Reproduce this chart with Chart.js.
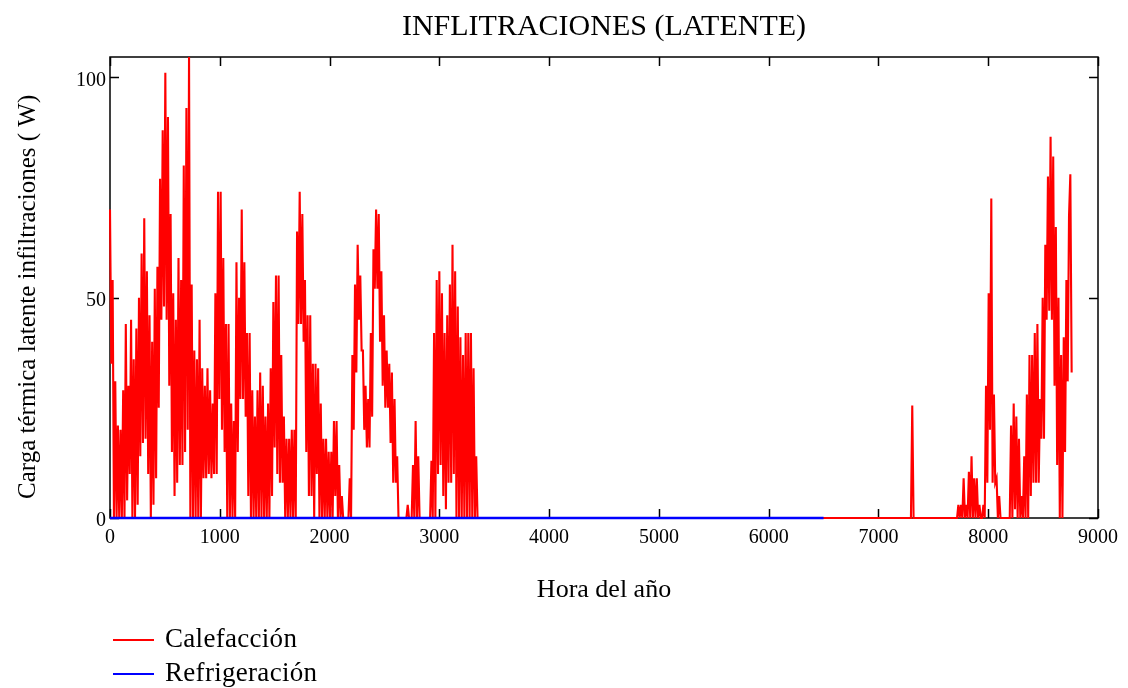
<!DOCTYPE html>
<html lang="es">
<head>
  <meta charset="UTF-8" />
  <title>Infiltraciones (latente)</title>
  <script src="https://cdn.jsdelivr.net/npm/chart.js"></script>
  <style>
    body {
      margin: 0;
      background: #fff;
      font-family: 'Liberation Serif', 'Times New Roman', serif;
    }
    .wrap {
      position: relative;
      width: 1128px;
      height: 688px;
    }
    canvas {
      position: absolute;
      left: 0;
      top: 0;
    }
    .legend-item {
      position: absolute;
      left: 113px;
      height: 34px;
      line-height: 34px;
      font-size: 27px;
      letter-spacing: 0.3px;
      color: #000;
      white-space: nowrap;
    }
    .legend-item .swatch {
      display: inline-block;
      width: 41px;
      height: 0;
      border-top: 2px solid;
      vertical-align: middle;
      margin-right: 11px;
      position: relative;
      top: -1px;
    }
  </style>
</head>
<body>
  <div class="wrap">
    <canvas id="chart" width="1128" height="688"></canvas>
    <div class="legend-item" style="top:621px"><span class="swatch" style="border-color:#ff0000"></span>Calefacción</div>
    <div class="legend-item" style="top:655px"><span class="swatch" style="border-color:#0000ff"></span>Refrigeración</div>
  </div>

  <script>
    // valores, cada 12 horas
    const pasoHoras = 12;

    // enero - mayo (hora 0 a 3348)
    const inicioInvierno = 0;
    const calefaccionInvierno = [
      70, 35, 54, 0, 31, 0, 21, 0,
      20, 0, 29, 0, 44, 4, 30, 10,
      45, 0, 36, 0, 43, 3, 50, 14,
      60, 17, 68, 18, 56, 10, 46, 0,
      40, 3, 52, 9, 57, 25, 77, 45,
      88, 48, 101, 45, 91, 30, 69, 15,
      51, 5, 45, 8, 59, 12, 54, 12,
      80, 15, 93, 20, 105, 0, 53, 0,
      38, 0, 36, 0, 45, 0, 34, 9,
      30, 9, 34, 10, 29, 9, 26, 10,
      51, 10, 74, 27, 74, 20, 59, 15,
      44, 0, 44, 0, 26, 0, 22, 0,
      58, 15, 50, 27, 70, 27, 58, 23,
      42, 5, 42, 0, 29, 0, 23, 0,
      29, 0, 33, 0, 30, 0, 23, 0,
      26, 0, 34, 5, 49, 16, 55, 10,
      55, 8, 37, 8, 23, 0, 18, 0,
      18, 0, 20, 0, 20, 0, 65, 44,
      74, 44, 69, 40, 54, 15, 46, 5,
      46, 5, 35, 0, 35, 10, 34, 0,
      26, 0, 18, 0, 18, 0, 15, 0,
      15, 0, 22, 5, 22, 0, 12, 0,
      5, 0, 0, 0, 0, 0, 9, 0,
      37, 20, 53, 33, 62, 45, 55, 38,
      38, 20, 30, 16, 27, 16, 42, 23,
      61, 52, 70, 52, 69, 40, 56, 30,
      46, 25, 38, 25, 35, 17, 33, 8,
      27, 8, 14, 0, 0, 0, 0, 0,
      0, 0, 3, 0, 0, 0, 12, 0,
      22, 0, 14, 0, 0, 0, 0, 0,
      0, 0, 0, 0, 13, 0, 42, 0,
      54, 10, 56, 12, 51, 5, 42, 2,
      46, 8, 53, 8, 62, 10, 56, 0,
      48, 0, 41, 0, 37, 0, 42, 0,
      42, 0, 42, 0, 34, 0, 14, 0
    ];

    // pico aislado de octubre
    const picoHoras = [7296, 7308, 7320];
    const picoValores = [0, 25.5, 0];

    // noviembre - diciembre (hora 7704 a 8760)
    const inicioOtono = 7704;
    const calefaccionOtono = [
      0, 0, 3, 0, 3, 0, 9, 0,
      3, 0, 10.5, 0, 14, 0, 9, 0,
      9, 0, 3, 0, 0, 3, 0, 30,
      8, 51, 20, 72.5, 8, 28, 8, 9,
      0, 5, 0, 0, 0, 0, 0, 0,
      0, 0, 21, 0, 26, 2, 23, 0,
      18, 0, 5, 0, 14, 0, 28, 0,
      37, 5, 37, 8, 42, 8, 44, 8,
      27, 18, 50, 18, 62, 45, 77.5, 47,
      86.5, 45, 82, 30, 66, 12, 50, 0,
      37, 0, 41, 15, 54, 31, 68.5, 78,
      33
    ];

    const refrigeracionHoras = [0, 6500];
    const refrigeracionValores = [0, 0];

    const ticksX = [0, 1000, 2000, 3000, 4000, 5000, 6000, 7000, 8000, 9000];
    const ticksY = [0, 50, 100];
    const yMax = 104.6;

    const fuente = "'Liberation Serif', 'Times New Roman', serif";

    // puntos de calefaccion
    const puntosCal = [];
    calefaccionInvierno.forEach((v, i) => puntosCal.push({ x: inicioInvierno + i * pasoHoras, y: v }));
    picoHoras.forEach((h, i) => puntosCal.push({ x: h, y: picoValores[i] }));
    calefaccionOtono.forEach((v, i) => puntosCal.push({ x: inicioOtono + i * pasoHoras, y: v }));

    const puntosRef = refrigeracionHoras.map((h, i) => ({ x: h, y: refrigeracionValores[i] }));

    // marco y marcas hacia dentro
    const marco = {
      id: 'marco',
      beforeDatasetsDraw(chart) {
        const { ctx, chartArea: a, scales } = chart;
        const len = 9;
        ctx.save();
        ctx.strokeStyle = '#000';
        ctx.lineWidth = 1.5;
        ctx.strokeRect(a.left, a.top, a.right - a.left, a.bottom - a.top);
        ctx.beginPath();
        ticksX.forEach(v => {
          const px = Math.round(scales.x.getPixelForValue(v)) + 0.5;
          ctx.moveTo(px, a.bottom); ctx.lineTo(px, a.bottom - len);
          ctx.moveTo(px, a.top); ctx.lineTo(px, a.top + len);
        });
        ticksY.forEach(v => {
          const py = Math.round(scales.y.getPixelForValue(v)) + 0.5;
          ctx.moveTo(a.left, py); ctx.lineTo(a.left + len, py);
          ctx.moveTo(a.right, py); ctx.lineTo(a.right - len, py);
        });
        ctx.stroke();
        ctx.restore();
      }
    };

    new Chart(document.getElementById('chart'), {
      type: 'line',
      data: {
        datasets: [{
          label: 'Refrigeración',
          data: puntosRef,
          borderColor: '#0000ff',
          borderWidth: 2.5,
          pointRadius: 0,
          tension: 0,
          clip: { left: 1, top: 0, right: 1, bottom: 3 },
          order: 1
        }, {
          label: 'Calefacción',
          data: puntosCal,
          borderColor: '#ff0000',
          borderWidth: 2.1,
          pointRadius: 0,
          tension: 0,
          clip: { left: 1, top: 0, right: 1, bottom: 3 },
          order: 2
        }]
      },
      options: {
        responsive: false,
        animation: false,
        layout: { padding: { top: 0, left: 0, right: 30, bottom: 82 } },
        plugins: {
          legend: { display: false },
          tooltip: { enabled: false },
          title: {
            display: true,
            text: 'INFLITRACIONES (LATENTE)',
            fullSize: false,
            color: '#000',
            font: { family: fuente, size: 30, weight: 'normal' },
            padding: { top: 9.5, bottom: 11.5 }
          }
        },
        scales: {
          x: {
            type: 'linear',
            min: 0,
            max: 9000,
            afterBuildTicks: s => { s.ticks = ticksX.map(v => ({ value: v })); },
            afterFit: s => { s.height = 88; },
            grid: { display: false, drawTicks: false },
            border: { display: false },
            ticks: {
              padding: 8,
              color: '#000',
              maxRotation: 0,
              autoSkip: false,
              callback: v => String(v),
              font: { family: fuente, size: 20 }
            },
            title: {
              display: true,
              text: 'Hora del año',
              color: '#000',
              padding: 0,
              font: { family: fuente, size: 26 }
            }
          },
          y: {
            min: 0,
            max: yMax,
            afterBuildTicks: s => { s.ticks = ticksY.map(v => ({ value: v })); },
            afterFit: s => { s.width = 110; },
            grid: { display: false, drawTicks: false },
            border: { display: false },
            ticks: {
              padding: 4,
              labelOffset: 3,
              color: '#000',
              callback: v => String(v),
              font: { family: fuente, size: 20 }
            },
            title: {
              display: true,
              text: 'Carga térmica latente infiltraciones ( W)   ',
              color: '#000',
              padding: { top: 13, bottom: 0 },
              font: { family: fuente, size: 25 }
            }
          }
        }
      },
      plugins: [marco]
    });
  </script>
</body>
</html>
